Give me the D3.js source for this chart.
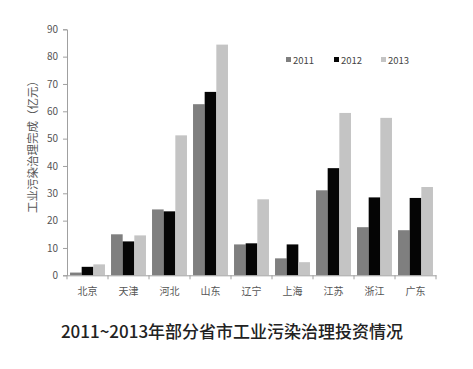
<!DOCTYPE html>
<html><head><meta charset="utf-8">
<script src="https://cdn.jsdelivr.net/npm/d3@7"></script>
<style>body{margin:0;background:#fff;}svg{display:block;}</style>
</head><body>
<svg id="c" width="473" height="369"></svg>
<script>
const categories = ["北京","天津","河北","山东","辽宁","上海","江苏","浙江","广东"];
const seriesNames = ["2011","2012","2013"];
const v2011 = [1.0,15.0,24.1,62.6,11.3,6.2,31.1,17.6,16.5];
const v2012 = [3.1,12.4,23.4,67.1,11.7,11.3,39.2,28.5,28.3];
const v2013 = [4.0,14.6,51.2,84.4,27.8,4.8,59.4,57.6,32.3];
const yTicks = [0,10,20,30,40,50,60,70,80,90];
const colors = ["#7f7f7f","#050505","#c4c4c4"];
const series = [v2011,v2012,v2013];

const svg = d3.select("#c");
const font = "'Noto Sans CJK SC', 'Liberation Sans', sans-serif";
const x0 = 67, x1 = 436, yb = 275.3, yt = 29.3;
const x = d3.scaleBand().domain(categories).range([x0,x1]).paddingInner(0).paddingOuter(0);
const y = d3.scaleLinear().domain([0,90]).range([yb,yt]);
const xs = d3.scaleBand().domain(seriesNames).range([0,x.bandwidth()]).paddingInner(0).paddingOuter(0.26);

// bars
seriesNames.forEach((s,i)=>{
  svg.append("g").selectAll("rect").data(categories).join("rect")
    .attr("x", d=>x(d)+xs(s))
    .attr("y", (d,j)=>y(series[i][j]))
    .attr("width", xs.bandwidth())
    .attr("height", (d,j)=>y(0)-y(series[i][j]))
    .attr("fill", colors[i]);
});

// y axis
const ya = svg.append("g").attr("transform",`translate(${x0},0)`)
  .call(d3.axisLeft(y).tickValues(yTicks).tickSize(4).tickPadding(5));
ya.select(".domain").attr("stroke","#a0a0a0");
ya.selectAll(".tick line").attr("stroke","#a0a0a0");
ya.selectAll("text").attr("font-family",font).attr("font-size",10).attr("fill","#555");

// x axis
const xa = svg.append("g").attr("transform",`translate(0,${yb})`)
  .call(d3.axisBottom(x).tickSize(0).tickPadding(13));
xa.select(".domain").attr("stroke","#a0a0a0");
xa.selectAll("text").attr("font-family",font).attr("font-size",10).attr("fill","#555");
// boundary ticks
const bounds = categories.map(c=>x(c)).concat([x1]);
svg.append("g").selectAll("line").data(bounds).join("line")
  .attr("x1",d=>d).attr("x2",d=>d).attr("y1",yb).attr("y2",yb+4)
  .attr("stroke","#a0a0a0");

// y label
svg.append("text").attr("transform","translate(37,144) rotate(-90)")
  .attr("text-anchor","middle").attr("font-family",font).attr("font-size",11.5).attr("fill","#555")
  .text("工业污染治理完成（亿元）");

// legend
const lx = [286,334,381];
seriesNames.forEach((s,i)=>{
  svg.append("rect").attr("x",lx[i]).attr("y",57).attr("width",5).attr("height",5).attr("fill",colors[i]);
  svg.append("text").attr("x",lx[i]+7).attr("y",63.5).attr("font-family",font).attr("font-size",9.5)
    .attr("fill","#444").text(s);
});

// title
svg.append("text").attr("x",232).attr("y",338).attr("text-anchor","middle")
  .attr("font-family",font).attr("font-size",17).attr("font-weight","500").attr("fill","#222")
  .text("2011~2013年部分省市工业污染治理投资情况");
</script>
</body></html>
